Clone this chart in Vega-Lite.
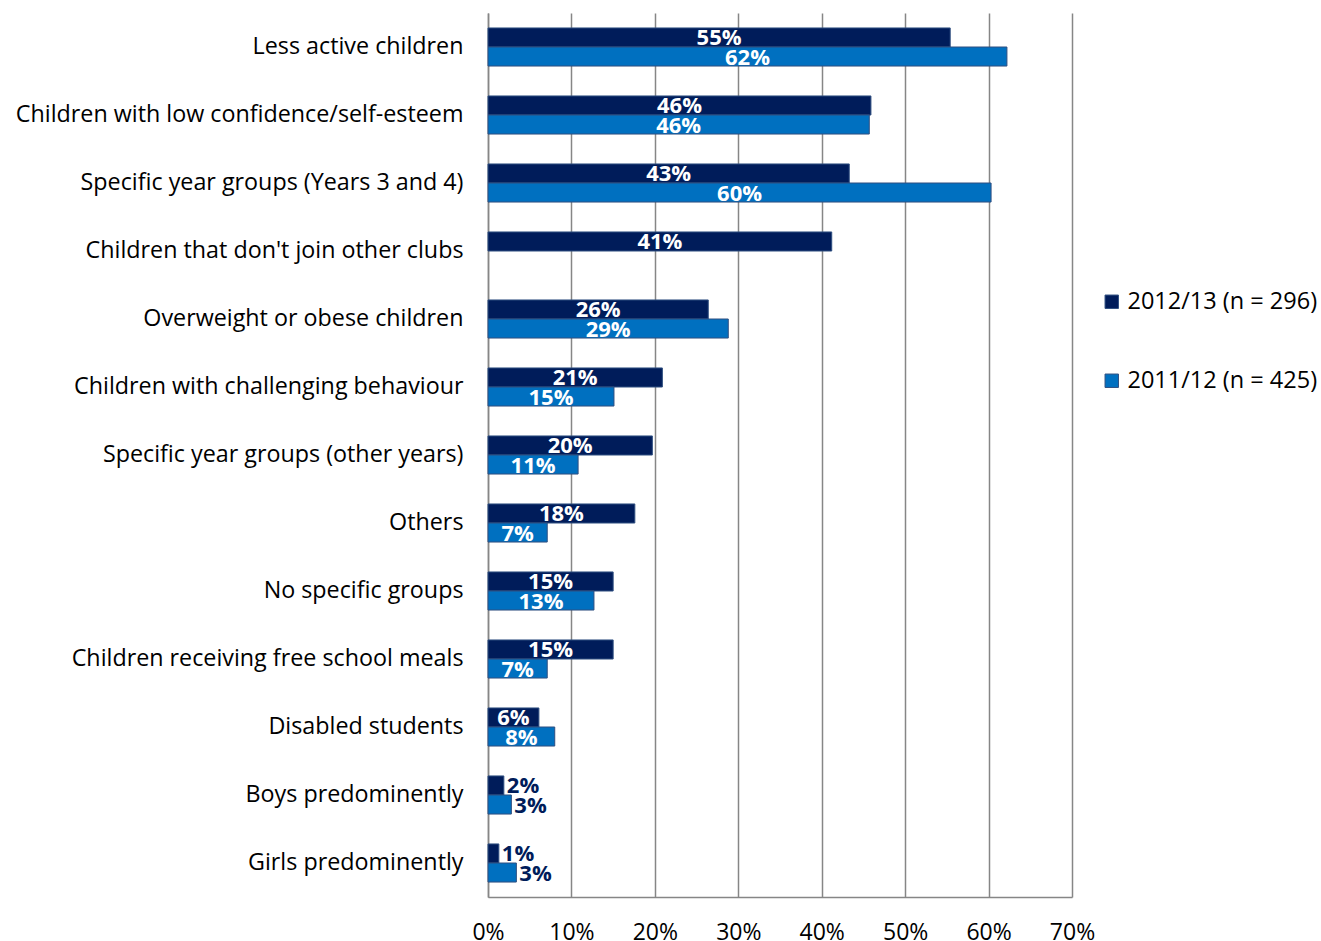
{
  "$schema": "https://vega.github.io/schema/vega-lite/v6.json",
  "autosize": "none",
  "width": 584,
  "height": 884,
  "padding": {"left": 488, "top": 13, "right": 249, "bottom": 44},
  "background": "white",
  "config": {
    "view": {"stroke": null},
    "font": "Open Sans"
  },
  "data": {
    "values": [
      {"group": "Less active children ", "year": "2012/13 (n = 296)", "value": 55.4},
      {"group": "Less active children ", "year": "2011/12 (n = 425)", "value": 62.2},
      {"group": "Children with low confidence/self-esteem", "year": "2012/13 (n = 296)", "value": 45.9},
      {"group": "Children with low confidence/self-esteem", "year": "2011/12 (n = 425)", "value": 45.7},
      {"group": "Specific year groups (Years 3 and 4)", "year": "2012/13 (n = 296)", "value": 43.3},
      {"group": "Specific year groups (Years 3 and 4)", "year": "2011/12 (n = 425)", "value": 60.3},
      {"group": "Children that don't join other clubs", "year": "2012/13 (n = 296)", "value": 41.2},
      {"group": "Overweight or obese children", "year": "2012/13 (n = 296)", "value": 26.4},
      {"group": "Overweight or obese children", "year": "2011/12 (n = 425)", "value": 28.8},
      {"group": "Children with challenging behaviour", "year": "2012/13 (n = 296)", "value": 20.9},
      {"group": "Children with challenging behaviour", "year": "2011/12 (n = 425)", "value": 15.1},
      {"group": "Specific year groups (other years)", "year": "2012/13 (n = 296)", "value": 19.7},
      {"group": "Specific year groups (other years)", "year": "2011/12 (n = 425)", "value": 10.8},
      {"group": "Others", "year": "2012/13 (n = 296)", "value": 17.6},
      {"group": "Others", "year": "2011/12 (n = 425)", "value": 7.1},
      {"group": "No specific groups", "year": "2012/13 (n = 296)", "value": 15.0},
      {"group": "No specific groups", "year": "2011/12 (n = 425)", "value": 12.7},
      {"group": "Children receiving free school meals", "year": "2012/13 (n = 296)", "value": 15.0},
      {"group": "Children receiving free school meals", "year": "2011/12 (n = 425)", "value": 7.1},
      {"group": "Disabled students", "year": "2012/13 (n = 296)", "value": 6.1},
      {"group": "Disabled students", "year": "2011/12 (n = 425)", "value": 8.0},
      {"group": "Boys predominently", "year": "2012/13 (n = 296)", "value": 1.9},
      {"group": "Boys predominently", "year": "2011/12 (n = 425)", "value": 2.8},
      {"group": "Girls predominently", "year": "2012/13 (n = 296)", "value": 1.3},
      {"group": "Girls predominently", "year": "2011/12 (n = 425)", "value": 3.4}
    ]
  },
  "transform": [
    {"calculate": "format(datum.value, '.0f') + '%'", "as": "label"}
  ],
  "encoding": {
    "y": {
      "field": "group",
      "type": "nominal",
      "sort": null,
      "scale": {"paddingInner": 0.44, "paddingOuter": 0.22},
      "axis": {
        "title": null,
        "ticks": false,
        "labelFontSize": 23.3,
        "labelColor": "#000000",
        "labelPadding": 25,
        "labelLimit": 600,
        "domainColor": "#868686",
        "domainWidth": 1.5
      }
    },
    "yOffset": {
      "field": "year",
      "type": "nominal",
      "sort": ["2012/13 (n = 296)", "2011/12 (n = 425)"],
      "scale": {"paddingInner": 0, "paddingOuter": 0}
    }
  },
  "layer": [
    {
      "mark": {"type": "bar", "stroke": "#2f4f80", "strokeWidth": 1},
      "encoding": {
        "x": {
          "field": "value",
          "type": "quantitative",
          "scale": {"domain": [0, 70], "nice": false},
          "axis": {
            "title": null,
            "values": [0, 10, 20, 30, 40, 50, 60, 70],
            "labelExpr": "datum.value + '%'",
            "labelFontSize": 23,
            "labelColor": "#000000",
            "labelPadding": 24,
            "labelFlush": false,
            "labelOverlap": false,
            "ticks": false,
            "grid": true,
            "gridColor": "#868686",
            "gridWidth": 1.5,
            "domainColor": "#868686",
            "domainWidth": 1.5
          }
        },
        "color": {
          "field": "year",
          "type": "nominal",
          "sort": ["2012/13 (n = 296)", "2011/12 (n = 425)"],
          "scale": {
            "domain": ["2012/13 (n = 296)", "2011/12 (n = 425)"],
            "range": ["#001c5a", "#0070c0"]
          },
          "legend": {
            "title": null,
            "orient": "none",
            "legendX": 612,
            "legendY": 277,
            "symbolType": "square",
            "symbolSize": 180,
            "symbolStrokeColor": "#2f4f80",
            "symbolStrokeWidth": 1,
            "labelFontSize": 23.5,
            "labelColor": "#000000",
            "labelOffset": 4,
            "rowPadding": 54,
            "labelLimit": 400
          }
        }
      }
    },
    {
      "transform": [
        {"filter": "datum.value >= 5"},
        {"calculate": "datum.value / 2", "as": "mid"}
      ],
      "mark": {"type": "text", "fontSize": 22, "fontWeight": "bold", "color": "white", "align": "center", "baseline": "middle", "dy": 1},
      "encoding": {
        "x": {"field": "mid", "type": "quantitative"},
        "text": {"field": "label", "type": "nominal"}
      }
    },
    {
      "transform": [
        {"filter": "datum.value < 5"}
      ],
      "mark": {"type": "text", "fontSize": 22, "fontWeight": "bold", "color": "#001c5a", "align": "left", "baseline": "middle", "dx": 3, "dy": 1},
      "encoding": {
        "x": {"field": "value", "type": "quantitative"},
        "text": {"field": "label", "type": "nominal"}
      }
    }
  ]
}
